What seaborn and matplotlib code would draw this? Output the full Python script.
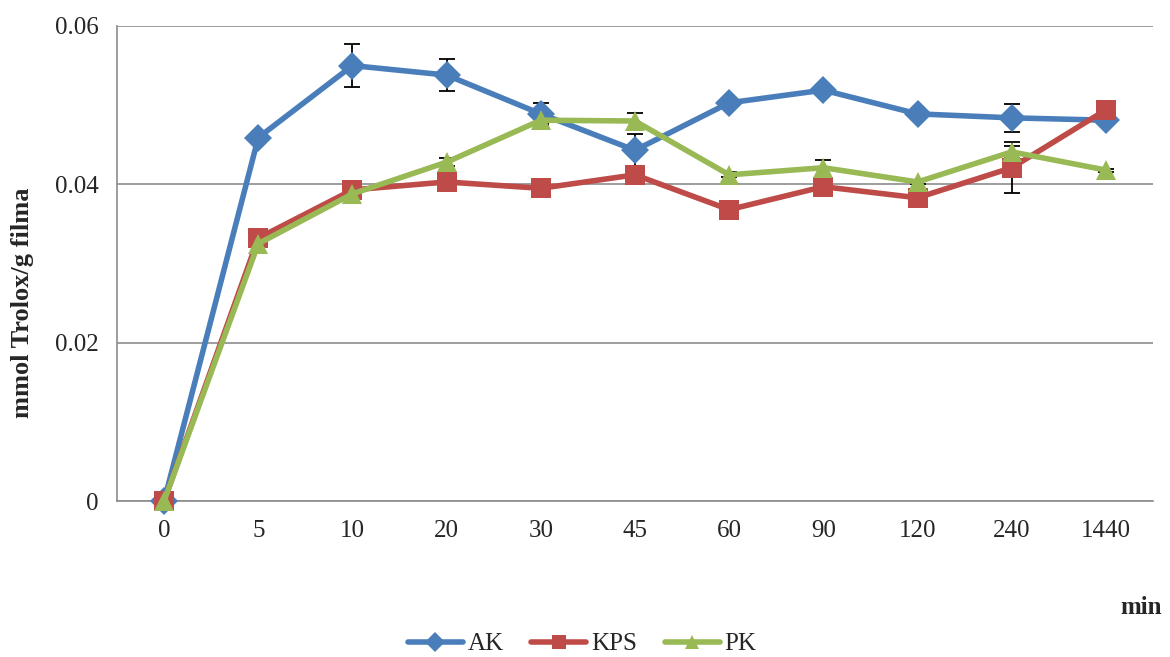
import glob
import numpy as np
import pandas as pd
import matplotlib
matplotlib.use("Agg")
import matplotlib.pyplot as plt
from matplotlib import font_manager
import seaborn as sns

# sampling times (min), shown as categories
times = ["0", "5", "10", "20", "30", "45", "60", "90", "120", "240", "1440"]

# mmol Trolox/g film
ak = [0.0, 0.0459, 0.0550, 0.0538, 0.0489, 0.0443, 0.0503, 0.0519, 0.0489, 0.0484, 0.0481]
kps = [0.0, 0.0332, 0.0393, 0.0403, 0.0395, 0.0412, 0.0368, 0.0397, 0.0383, 0.0421, 0.0494]
pk = [0.0, 0.0325, 0.0388, 0.0428, 0.0481, 0.0480, 0.0412, 0.0421, 0.0403, 0.0441, 0.0418]

# error bar half-widths
ak_err = [0.0001, 0.0002, 0.0027, 0.0020, 0.0014, 0.0020, 0.0003, 0.0006, 0.0003, 0.0018, 0.0002]
kps_err = [0.0001, 0.0002, 0.0003, 0.0003, 0.0002, 0.0003, 0.0002, 0.0003, 0.0003, 0.0032, 0.0002]
pk_err = [0.0001, 0.0002, 0.0003, 0.0005, 0.0003, 0.0010, 0.0003, 0.0010, 0.0003, 0.0008, 0.0002]

series = ["AK", "KPS", "PK"]
colors = {"AK": "#4A7EBB", "KPS": "#BE4B48", "PK": "#98B954"}
markers = {"AK": "D", "KPS": "s", "PK": "^"}

pos = np.arange(len(times))
df = pd.DataFrame({
    "pos": np.tile(pos, 3),
    "value": ak + kps + pk,
    "err": ak_err + kps_err + pk_err,
    "series": np.repeat(series, len(times)),
})

# make sure the Times-like font is registered
for f in glob.glob("/usr/share/fonts/**/LiberationSerif*.ttf", recursive=True):
    font_manager.fontManager.addfont(f)

sns.set_style("white")
plt.rcParams["font.family"] = ["Liberation Serif", "DejaVu Serif"]

fig = plt.figure(figsize=(11.7, 6.57), dpi=100)
ax = fig.add_axes([117 / 1170, 1 - 501 / 657, (1153 - 117) / 1170, (501 - 26) / 657])

# error bars first, under the lines
for s in series:
    d = df[df["series"] == s]
    ax.errorbar(d["pos"], d["value"], yerr=d["err"], fmt="none", ecolor="black",
                elinewidth=1.3, capsize=6, capthick=1.3, zorder=1)

sns.lineplot(data=df, x="pos", y="value", hue="series", style="series",
             palette=colors, markers=markers, dashes=False, linewidth=4,
             markersize=14, markeredgewidth=0, ax=ax, zorder=3, legend=True)
for ln in ax.lines:
    ln.set_clip_on(False)

ax.set_xlim(-0.5, len(times) - 0.5)
ax.set_ylim(0, 0.06)
ax.set_yticks([0, 0.02, 0.04, 0.06])
ax.set_yticklabels(["0", "0.02", "0.04", "0.06"])
ax.set_xticks(pos)
ax.set_xticklabels(times)
ax.set_xticks(np.arange(-0.5, len(times), 1), minor=True)
ax.tick_params(axis="x", which="major", length=0, pad=14, labelsize=18)
ax.tick_params(axis="x", which="minor", length=7, color="#8c8c8c", width=1.2, direction="out")
ax.tick_params(axis="y", length=7, color="#8c8c8c", width=1.2, direction="out", pad=6, labelsize=18)

ax.grid(axis="y", color="#8c8c8c", linewidth=1.2)
ax.set_axisbelow(True)
for side in ["top", "right"]:
    ax.spines[side].set_visible(False)
for side in ["left", "bottom"]:
    ax.spines[side].set_color("#8c8c8c")
    ax.spines[side].set_linewidth(1.2)

ax.set_xlabel("")
ax.set_ylabel("")
fig.text(23 / 1170, 1 - 303 / 657, "mmol Trolox/g filma", fontsize=19, fontweight="bold",
         rotation=90, ha="center", va="center")
fig.text(1162 / 1170, 1 - 607 / 657, "min", fontsize=18, fontweight="bold", ha="right", va="center")

handles, labels = ax.get_legend_handles_labels()
leg = ax.legend(handles, labels, loc="center", bbox_to_anchor=(582 / 1170, 1 - 644 / 657),
                bbox_transform=fig.transFigure, ncol=3, frameon=False, fontsize=18,
                handlelength=2.2, handletextpad=0.2, columnspacing=1.1)
for h in leg.legend_handles:
    h.set_markersize(10)

fig.savefig("out.png", dpi=100)
